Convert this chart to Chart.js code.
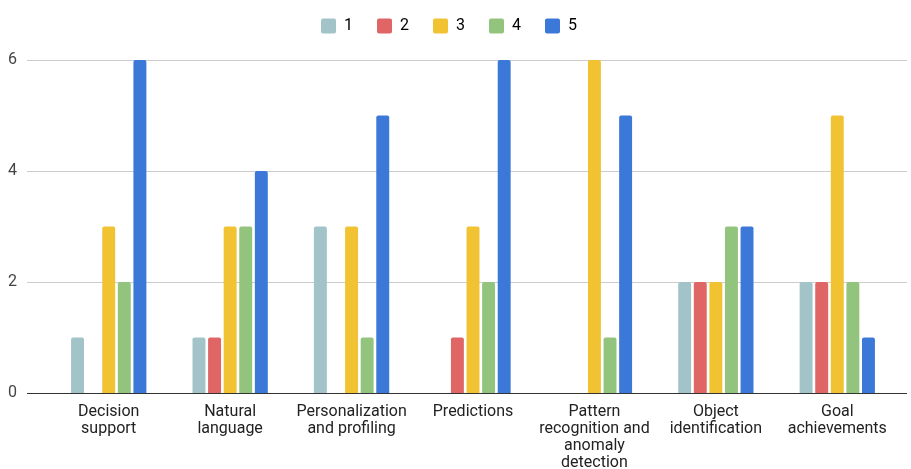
<!DOCTYPE html>
<html>
<head>
<meta charset="utf-8">
<script src="https://cdn.jsdelivr.net/npm/chart.js@4/dist/chart.umd.min.js"></script>
<style>
  html, body { margin: 0; padding: 0; background: #fff; }
  #wrap { width: 911px; height: 469px; }
</style>
</head>
<body>
<div id="wrap"><canvas id="aiUses"></canvas></div>
<script>
var categories = [
    ['Decision', 'support'],
    ['Natural', 'language'],
    ['Personalization', 'and profiling'],
    ['Predictions'],
    ['Pattern', 'recognition and', 'anomaly', 'detection'],
    ['Object', 'identification'],
    ['Goal', 'achievements']
];
var seriesNames = ['1', '2', '3', '4', '5'];
var rating1 = [1, 1, 3, 0, 0, 2, 2];
var rating2 = [0, 1, 0, 1, 0, 2, 2];
var rating3 = [3, 3, 3, 3, 6, 2, 5];
var rating4 = [2, 3, 1, 2, 1, 3, 2];
var rating5 = [6, 4, 5, 6, 5, 3, 1];
var yTicks = [0, 2, 4, 6];

var colors = ['#a2c4c9', '#e06666', '#f1c232', '#93c47d', '#3c78d8'];
var values = [rating1, rating2, rating3, rating4, rating5];

// horizontal rules run a bit past the plot area on both sides
var gridRules = {
    id: 'gridRules',
    beforeDatasetsDraw: function (chart) {
        var ctx = chart.ctx, area = chart.chartArea, y = chart.scales.y;
        ctx.save();
        ctx.lineWidth = 1;
        yTicks.forEach(function (v) {
            var py = Math.round(y.getPixelForValue(v)) + 0.5;
            ctx.strokeStyle = v === 0 ? '#333333' : '#cccccc';
            ctx.beginPath();
            ctx.moveTo(area.left - 21, py);
            ctx.lineTo(chart.width - 4, py);
            ctx.stroke();
        });
        ctx.restore();
    }
};

// extra room under the legend
var legendGap = {
    id: 'legendGap',
    beforeInit: function (chart) {
        var fit = chart.legend.fit;
        chart.legend.fit = function () {
            fit.bind(chart.legend)();
            this.height = 66;
        };
    }
};

var canvas = document.getElementById('aiUses');
var myChart = new Chart(canvas, {
    type: 'bar',
    data: {
        labels: categories,
        datasets: seriesNames.map(function (name, i) {
            return {
                label: name,
                data: values[i],
                backgroundColor: colors[i],
                borderWidth: 0,
                borderRadius: { topLeft: 2, topRight: 2 },
                borderSkipped: 'bottom',
                categoryPercentage: 0.642,
                barPercentage: 0.83
            };
        })
    },
    plugins: [gridRules, legendGap],
    options: {
        responsive: true,
        maintainAspectRatio: false,
        animation: false,
        layout: {
            padding: { top: -6, right: 13, bottom: -12, left: 0 }
        },
        plugins: {
            legend: {
                position: 'top',
                labels: {
                    boxWidth: 15,
                    boxHeight: 15,
                    padding: 24,
                    color: '#222222',
                    font: { family: 'Roboto', size: 16 },
                    generateLabels: function (chart) {
                        return chart.data.datasets.map(function (ds, i) {
                            return {
                                text: ds.label,
                                fillStyle: ds.backgroundColor,
                                strokeStyle: ds.backgroundColor,
                                lineWidth: 0,
                                borderRadius: 2,
                                datasetIndex: i,
                                hidden: false
                            };
                        });
                    }
                }
            },
            tooltip: { enabled: false },
            title: { display: false }
        },
        scales: {
            x: {
                grid: { display: false, drawTicks: false },
                border: { display: false },
                ticks: {
                    maxRotation: 0,
                    autoSkip: false,
                    padding: 10,
                    color: '#222222',
                    font: { family: 'Roboto', size: 16, lineHeight: '17px' }
                }
            },
            y: {
                min: 0,
                max: 6,
                grid: { display: false, drawTicks: false },
                border: { display: false },
                afterFit: function (scale) { scale.width = 48; },
                afterBuildTicks: function (scale) {
                    scale.ticks = yTicks.map(function (v) { return { value: v }; });
                },
                ticks: {
                    padding: 31,
                    color: '#444444',
                    font: { family: 'Roboto', size: 16 }
                }
            }
        }
    }
});
</script>
</body>
</html>
